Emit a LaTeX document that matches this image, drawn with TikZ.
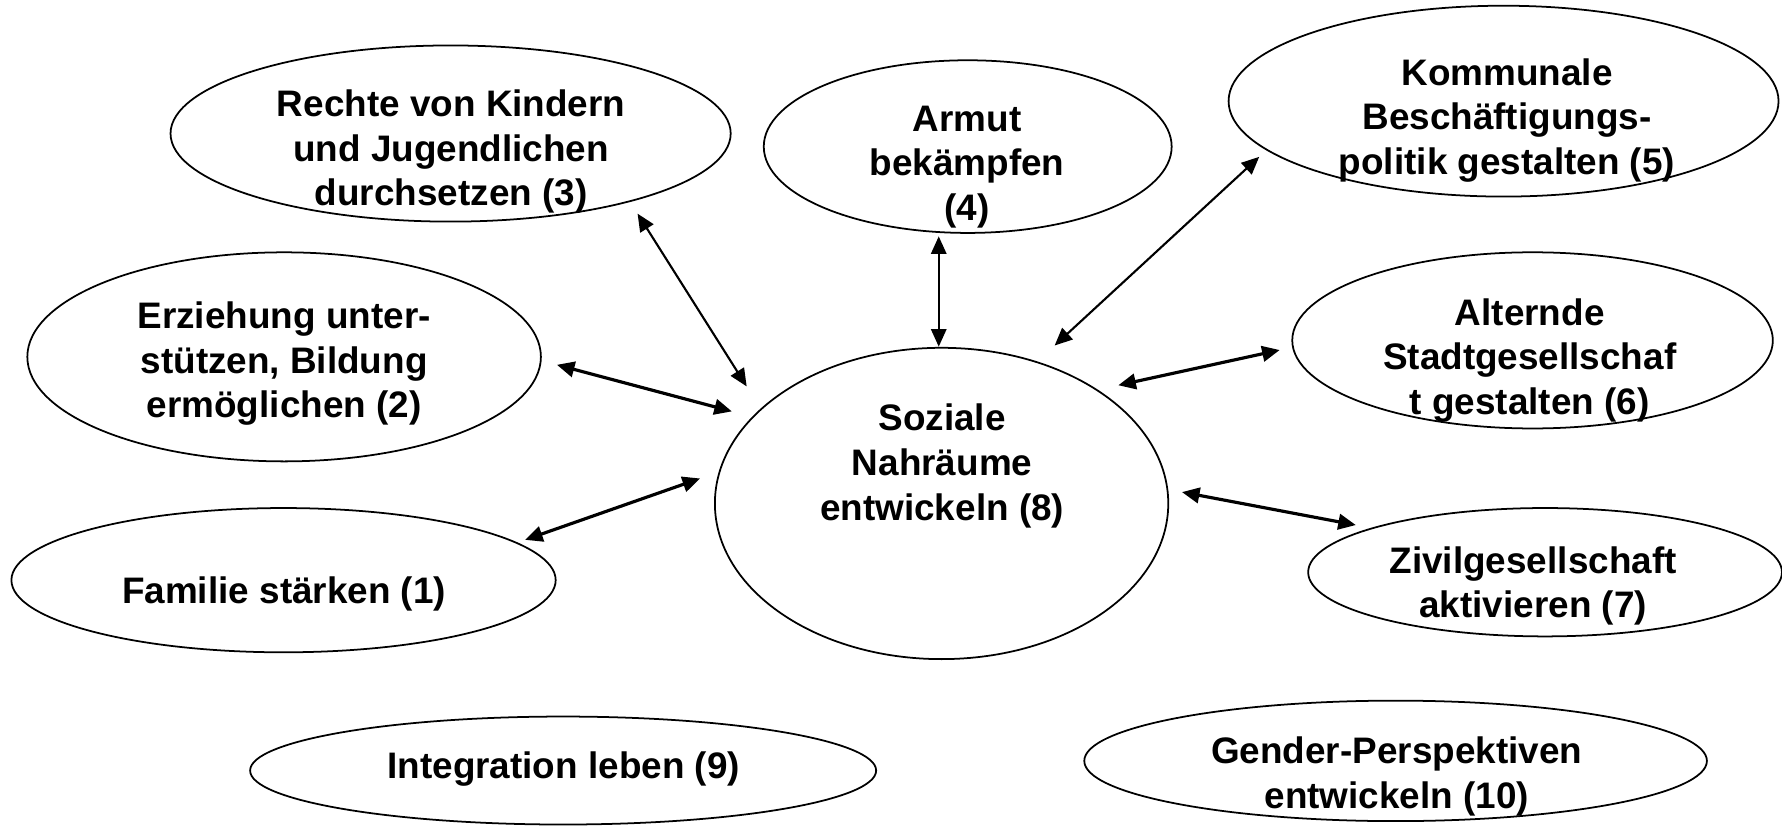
\documentclass[tikz,border=0pt]{standalone}
\usepackage{fontspec}
\setmainfont{Liberation Sans}
\usetikzlibrary{shapes.geometric,arrows.meta}
\tikzset{
  oval/.style={draw=black, line width=0.5pt, ellipse, inner sep=0pt, outer sep=0pt},
  lbl/.style={align=center, inner sep=0pt, font=\bfseries\fontsize{10.5}{12.7}\selectfont},
  link/.style={{Triangle[length=5pt,width=4.4pt]}-{Triangle[length=5pt,width=4.4pt]}, line width=0.9pt},
  thinlink/.style={link, line width=0.6pt}
}
\begin{document}
\begin{tikzpicture}[x=0.011365cm, y=-0.011365cm]
\useasboundingbox (0,0) rectangle (1568,726);
% ellipses
\node[oval, minimum width=5.603cm, minimum height=1.762cm] (e3) at (396.5,117.5) {};
\node[oval, minimum width=4.080cm, minimum height=1.727cm] (e4) at (851.5,129) {};
\node[oval, minimum width=5.501cm, minimum height=1.909cm] (e5) at (1323,89) {};
\node[oval, minimum width=5.137cm, minimum height=2.091cm] (e2) at (250,314) {};
\node[oval, minimum width=4.535cm, minimum height=3.114cm] (e8) at (828.5,443) {};
\node[oval, minimum width=4.807cm, minimum height=1.762cm] (e6) at (1348.5,299.5) {};
\node[oval, minimum width=5.444cm, minimum height=1.443cm] (e1) at (249.5,510.5) {};
\node[oval, minimum width=4.739cm, minimum height=1.284cm] (e7) at (1359.5,503.5) {};
\node[oval, minimum width=6.262cm, minimum height=1.080cm] (e9) at (495.5,678) {};
\node[oval, minimum width=6.228cm, minimum height=1.205cm] (e10) at (1228,669.5) {};
% labels
\node[lbl] (t3) at (397,133.5) {Rechte von Kindern\\und Jugendlichen\\durchsetzen (3)};
\node[lbl] (t4) at (851,147) {Armut\\bekämpfen\\(4)};
\node[lbl] (t5) at (1326,106) {Kommunale\\Beschäftigungs-\\politik gestalten (5)};
\node[lbl] (t2) at (250,320) {Erziehung unter-\\stützen, Bildung\\ermöglichen (2)};
\node[lbl] (t8) at (829,410) {Soziale\\Nahräume\\entwickeln (8)};
\node[lbl] (t6) at (1346,317) {Alternde\\Stadtgesellschaf\\t gestalten (6)};
\node[lbl] (t1) at (250,523) {Familie stärken (1)};
\node[lbl] (t7) at (1349,515.5) {Zivilgesellschaft\\aktivieren (7)};
\node[lbl] (t9) at (496,677) {Integration leben (9)};
\node[lbl] (t10) at (1229,683) {Gender-Perspektiven\\entwickeln (10)};
% connector ends
\coordinate (a3) at (561,188);  \coordinate (b3) at (657,340);
\coordinate (a4) at (826,208);  \coordinate (b4) at (826,305);
\coordinate (a5) at (1108,138); \coordinate (b5) at (928,304);
\coordinate (a2) at (490,321);  \coordinate (b2) at (644,362);
\coordinate (a6) at (1126,308); \coordinate (b6) at (984,339);
\coordinate (a1) at (462,475);  \coordinate (b1) at (616,421);
\coordinate (a7) at (1193,462); \coordinate (b7) at (1040,433);
% connectors
\draw[thinlink] (a3) -- (b3);
\draw[thinlink, line width=0.5pt] (a4) -- (b4);
\draw[thinlink] (a5) -- (b5);
\draw[link] (a2) -- (b2);
\draw[link] (a6) -- (b6);
\draw[link] (a1) -- (b1);
\draw[link] (a7) -- (b7);
\end{tikzpicture}
\end{document}
